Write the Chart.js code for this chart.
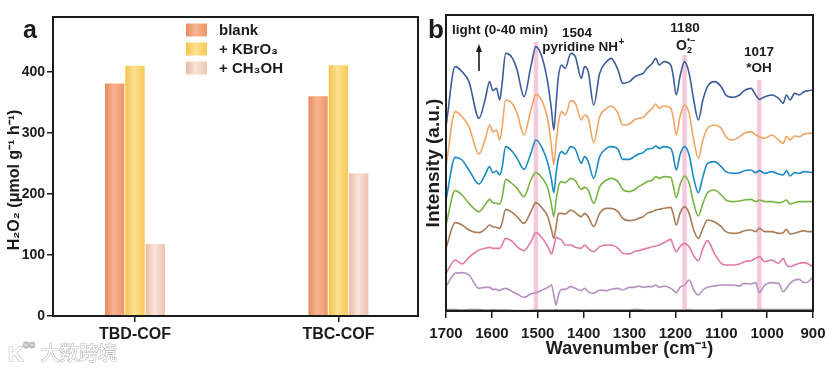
<!DOCTYPE html>
<html><head><meta charset="utf-8">
<script src="https://cdn.jsdelivr.net/npm/chart.js@4.4.1/dist/chart.umd.min.js"></script>
<style>
html,body{margin:0;padding:0;background:#fff;}
#wrap{position:relative;width:827px;height:371px;overflow:hidden;background:#fff;}
#pa{position:absolute;left:0;top:0;width:420px;height:371px;}
#pb{position:absolute;left:420px;top:0;width:407px;height:371px;}
</style></head><body>
<div id="wrap">
<div id="pa"><canvas id="ca" width="420" height="371"></canvas></div>
<div id="pb"><canvas id="cb" width="407" height="371"></canvas></div>
</div>
<script>
// ---------- Panel a data ----------
const categories = ['TBD-COF', 'TBC-COF'];
const seriesNames = ['blank', '+ KBrO\u2083', '+ CH\u2083OH'];
const blankVals = [381, 360];
const kbro3Vals = [410, 411];
const ch3ohVals = [118, 234];
const barTicks = [0, 100, 200, 300, 400];
const yTitleA = 'H\u2082O\u2082 (\u03bcmol g\u207b\u00b9 h\u207b\u00b9)';

// ---------- Panel b data (in-situ IR, intensity a.u., offset-stacked) ----------
const wavenumbers = [1700,1680,1665,1650,1628,1615,1605,1598,1590,1583,1578,1570,1555,1545,1530,1515,1504,1490,1478,1470,
  1465,1460,1455,1448,1440,1428,1418,1405,1398,1390,1378,1365,1350,1340,1325,1315,1300,1290,1280,1270,
  1262,1250,1243,1235,1225,1210,1205,1198,1190,1180,1170,1160,1150,1140,1130,1115,1100,1090,1075,1060,
  1050,1035,1025,1017,1005,990,975,965,958,950,940,930,920,910,900];
const wnTicks = [1700,1600,1500,1400,1300,1200,1100,1000,900];
const specBlue = [553,733,718,688,578,633,688,661,668,633,678,773,758,723,643,733,793,758,683,603,
  543,623,703,738,728,773,763,698,733,718,618,713,748,758,723,683,688,701,708,713,
  728,743,758,738,748,738,708,648,703,748,713,633,573,633,673,688,673,648,641,648,
  661,668,648,635,643,648,638,623,648,633,653,648,658,661,663];
const specOrange = [433,598,583,553,471,513,558,538,543,513,548,633,621,593,528,603,650,628,573,493,
  438,503,563,598,588,631,623,573,588,578,505,583,608,615,593,558,561,573,578,581,
  593,608,621,608,615,608,583,528,583,618,593,513,458,513,548,558,548,523,513,523,
  533,538,528,523,518,528,513,503,523,513,525,523,531,533,533];
const specCyan = [333,461,453,423,381,408,433,415,420,408,428,493,478,458,425,473,513,488,443,393,
  355,413,458,478,471,493,485,443,463,448,398,463,488,493,485,455,455,463,471,475,
  485,488,495,488,493,488,468,423,468,493,468,398,355,403,443,448,433,418,413,415,
  421,423,415,421,413,418,411,408,421,405,415,413,418,417,415];
const specGreen = [258,361,348,323,298,318,335,325,323,321,338,395,381,368,343,393,416,398,368,318,
  283,333,373,388,385,398,391,365,371,363,323,373,393,398,388,365,358,363,373,381,
  388,393,403,398,403,401,378,340,378,405,383,323,285,323,355,363,348,333,328,330,
  333,335,328,333,328,328,325,328,333,321,325,328,328,328,328];
const specBrown = [188,265,258,243,235,245,258,253,251,248,263,305,295,283,263,298,325,308,283,243,
  218,253,293,293,291,303,295,283,293,283,253,293,308,308,298,278,271,273,278,283,
  293,298,303,305,308,311,293,258,293,313,293,243,218,248,273,268,253,238,233,235,
  241,243,238,248,238,238,233,235,245,231,233,238,241,238,238];
const specPink = [113,153,141,161,183,188,191,188,188,188,198,218,208,193,181,208,235,218,193,171,
  193,221,218,213,198,198,191,188,198,188,178,193,198,198,188,173,171,178,181,185,
  188,193,195,198,205,215,198,178,193,203,193,165,151,188,211,173,143,138,138,141,
  148,151,158,163,148,153,143,158,138,133,138,143,145,141,133];
const specPurple = [73,113,115,108,68,71,71,65,65,61,65,68,58,51,41,51,55,63,71,78,
  48,18,48,65,65,73,68,61,68,58,53,63,61,65,68,63,71,71,75,71,
  73,73,78,71,75,68,63,55,71,78,93,63,48,63,71,75,78,78,78,75,
  83,81,85,55,78,85,83,58,68,83,93,95,85,88,103];
const specGray = [4,4,3,4,4,3,3,4,3,3,3,3,2,1,1,2,3,3,3,3,
  3,4,3,3,3,3,3,3,2,3,3,3,3,3,3,3,3,4,4,3,
  3,3,3,3,3,3,3,3,3,3,4,3,3,3,3,3,4,4,4,4,
  4,4,4,4,4,4,4,4,4,4,4,4,4,4,4];
const bandPositions = [1504, 1180, 1017];
const bandTops = [807, 768, 693];

const FONT = "'Liberation Sans', Arial, sans-serif";
Chart.defaults.font.family = FONT;
Chart.defaults.font.weight = 'bold';
Chart.defaults.color = '#1c1c1c';
const INK = '#1c1c1c';

// ---------- Panel a ----------
const barStyles = [
  {edge:'#E98A5E', mid:'#F7B590', edge2:'#EE956A', solid:'#F3A57C'},
  {edge:'#F5C24C', mid:'#FDE192', edge2:'#F7C855', solid:'#FAD46C'},
  {edge:'#E9B9A2', mid:'#F9E5DB', edge2:'#EDC3AE', solid:'#F3D2C2'}
];
const barSeries = [blankVals, kbro3Vals, ch3ohVals];

function shade(ctx, l, r, st){
  const g = ctx.createLinearGradient(l, 0, r, 0);
  g.addColorStop(0, st.edge); g.addColorStop(0.45, st.mid); g.addColorStop(1, st.edge2);
  return g;
}

const barShade = {
  id:'barShade',
  beforeDatasetsDraw(chart){
    const ctx = chart.ctx;
    chart.data.datasets.forEach((ds, di) => {
      const meta = chart.getDatasetMeta(di);
      meta.data.forEach(el => {
        const l = el.x - el.width/2, r = el.x + el.width/2;
        el.options = Object.assign({}, el.options, {backgroundColor: shade(ctx, l, r, barStyles[di])});
      });
    });
  }
};

const panelA = {
  id:'panelA',
  afterDraw(chart){
    const c = chart.ctx, a = chart.chartArea;
    c.save();
    c.strokeStyle = INK; c.lineWidth = 2;
    c.strokeRect(a.left, a.top, a.right - a.left, a.bottom - a.top);
    // y title
    c.save();
    c.translate(15, 180); c.rotate(-Math.PI/2);
    c.font = 'bold 16px ' + FONT; c.fillStyle = INK; c.textAlign = 'center'; c.textBaseline = 'middle';
    c.fillText(yTitleA, 0, 0);
    c.restore();
    // legend
    c.font = 'bold 15px ' + FONT; c.fillStyle = INK; c.textAlign = 'left'; c.textBaseline = 'middle';
    const rowsY = [30, 49, 68];
    chart.data.datasets.forEach((ds, i) => {
      c.fillStyle = shade(c, 186, 207, barStyles[i]);
      c.fillRect(186, rowsY[i] - 6.5, 21, 13);
      c.fillStyle = INK;
      c.fillText(ds.label, 219, rowsY[i] + 1);
    });
    // panel letter
    c.font = 'bold 25px ' + FONT; c.textAlign = 'center'; c.textBaseline = 'alphabetic';
    c.fillText('a', 30, 38);
    // watermark
    c.font = '19px "Noto Sans CJK SC", sans-serif';
    c.textAlign = 'left';
    c.lineWidth = 1.2; c.strokeStyle = '#b9b9b9'; c.fillStyle = '#ffffff';
    c.strokeText('大数跨境', 41, 360); c.fillText('大数跨境', 41, 360);
    c.font = 'bold 21px ' + FONT;
    c.strokeText('K', 8, 361); c.fillText('K', 8, 361);
    c.font = 'bold 10px ' + FONT;
    c.strokeText('oo', 23, 348);
    c.restore();
  }
};

new Chart(document.getElementById('ca'), {
  type:'bar',
  data:{
    datasets: barSeries.map((vals, i) => ({
      label: seriesNames[i],
      data: vals.map((v, k) => ({x:k, y:v})),
      backgroundColor: barStyles[i].solid,
      borderWidth: 0,
      categoryPercentage: 0.3,
      barPercentage: 0.95
    }))
  },
  options:{
    responsive:false, animation:false, devicePixelRatio:1,
    layout:{padding:{left:5, right:2, top:17, bottom:0}},
    plugins:{legend:{display:false}, tooltip:{enabled:false}},
    scales:{
      x:{
        type:'linear', min:-0.403, max:1.391, offset:false,
        afterBuildTicks(s){ s.ticks = categories.map((_, k) => ({value:k})); },
        afterFit(s){ s.height = 55; s.paddingLeft = 0; s.paddingRight = 0; },
        ticks:{callback:(v) => categories[v] ?? '', font:{size:16, weight:'bold'}, padding:3, maxRotation:0, autoSkip:false, color:INK},
        grid:{display:true, drawOnChartArea:false, drawTicks:true, tickLength:6, color:INK, lineWidth:1.5, offset:false},
        border:{display:false}
      },
      y:{
        min:0, max:490,
        afterBuildTicks(s){ s.ticks = barTicks.map(v => ({value:v})); },
        afterFit(s){ s.width = 48; s.paddingTop = 0; s.paddingBottom = 0; },
        ticks:{font:{size:14, weight:'bold'}, padding:2, color:INK},
        grid:{display:true, drawOnChartArea:false, drawTicks:true, tickLength:6, color:INK, lineWidth:1.5},
        border:{display:false},
        title:{display:false}
      }
    }
  },
  plugins:[barShade, panelA]
});

// ---------- Panel b ----------
const specSeries = [
  {name:'spectrum 8', vals:specBlue,   color:'#3C5C9C'},
  {name:'spectrum 7', vals:specOrange, color:'#F0A563'},
  {name:'spectrum 6', vals:specCyan,   color:'#1B8AC4'},
  {name:'spectrum 5', vals:specGreen,  color:'#78B445'},
  {name:'spectrum 4', vals:specBrown,  color:'#A97B56'},
  {name:'spectrum 3', vals:specPink,   color:'#E07AA6'},
  {name:'spectrum 2', vals:specPurple, color:'#B78EC2'},
  {name:'spectrum 1', vals:specGray,   color:'#8E8E8E'}
];

const panelB = {
  id:'panelB',
  afterDraw(chart){
    const c = chart.ctx, a = chart.chartArea;
    c.save();
    c.strokeStyle = INK; c.lineWidth = 2;
    c.strokeRect(a.left, a.top, a.right - a.left, a.bottom - a.top);
    c.fillStyle = INK;
    c.font = 'bold 26px ' + FONT; c.textAlign = 'center'; c.textBaseline = 'alphabetic';
    c.fillText('b', 16, 38);
    c.font = 'bold 13.5px ' + FONT; c.textAlign = 'left';
    c.fillText('light (0-40 min)', 32, 34);
    // arrow
    c.lineWidth = 1.6;
    c.beginPath(); c.moveTo(59, 71); c.lineTo(59, 50); c.stroke();
    c.beginPath(); c.moveTo(59, 44); c.lineTo(56, 52); c.lineTo(62, 52); c.closePath(); c.fill();
    c.textAlign = 'center';
    c.fillText('1504', 157, 37);
    // pyridine NH+
    const t1 = 'pyridine NH';
    const w1 = c.measureText(t1).width;
    c.font = 'bold 10px ' + FONT;
    const w2 = c.measureText('+').width;
    const x0 = 163 - (w1 + w2) / 2;
    c.textAlign = 'left';
    c.font = 'bold 13.5px ' + FONT; c.fillText(t1, x0, 51);
    c.font = 'bold 10px ' + FONT; c.fillText('+', x0 + w1 + 0.5, 45);
    // 1180 O2 radical
    c.font = 'bold 13.5px ' + FONT; c.textAlign = 'center';
    c.fillText('1180', 265, 32);
    c.textAlign = 'left';
    c.font = 'bold 14px ' + FONT; c.fillText('O', 256, 50);
    c.font = 'bold 9px ' + FONT; c.fillText('2', 267, 53);
    c.fillText('\u2022\u2013', 267, 43);
    c.font = 'bold 13.5px ' + FONT; c.textAlign = 'center';
    c.fillText('1017', 339, 56);
    c.fillText('*OH', 339, 72);
    c.restore();
  }
};

const bandDatasets = bandPositions.map((w, i) => ({
  label: 'band ' + w,
  data: [{x:w, y:0}, {x:w, y:bandTops[i]}],
  borderColor: 'rgba(245,190,214,0.85)',
  borderWidth: 4.5,
  pointRadius: 0,
  order: 10
}));

const specDatasets = specSeries.map(s => ({
  label: s.name,
  data: wavenumbers.map((w, k) => ({x:w, y:s.vals[k]})),
  borderColor: s.color,
  borderWidth: 1.6,
  pointRadius: 0,
  cubicInterpolationMode: 'monotone',
  order: 1
}));

new Chart(document.getElementById('cb'), {
  type:'line',
  data:{datasets: specDatasets.concat(bandDatasets)},
  options:{
    responsive:false, animation:false, devicePixelRatio:1,
    layout:{padding:{left:2, right:14, top:15, bottom:0}},
    plugins:{legend:{display:false}, tooltip:{enabled:false}},
    scales:{
      x:{
        type:'linear', min:900, max:1700, reverse:true,
        afterBuildTicks(s){ s.ticks = wnTicks.map(v => ({value:v})); },
        afterFit(s){ s.height = 60; s.paddingLeft = 0; s.paddingRight = 0; },
        ticks:{callback:(v) => String(v), font:{size:15, weight:'bold'}, padding:7, maxRotation:0, autoSkip:false, color:INK},
        grid:{display:true, drawOnChartArea:false, drawTicks:true, tickLength:7, color:INK, lineWidth:1.5},
        border:{display:false},
        title:{display:true, text:'Wavenumber (cm\u207b\u00b9)', font:{size:18, weight:'bold'}, padding:{top:0, bottom:11}, color:INK}
      },
      y:{
        min:0, max:888,
        afterFit(s){ s.width = 24; s.paddingTop = 0; s.paddingBottom = 0; },
        ticks:{display:false},
        grid:{display:false},
        border:{display:false},
        title:{display:true, text:'Intensity (a.u.)', font:{size:19, weight:'bold'}, padding:{top:0, bottom:0}, color:INK}
      }
    }
  },
  plugins:[panelB]
});
</script>
</body></html>
